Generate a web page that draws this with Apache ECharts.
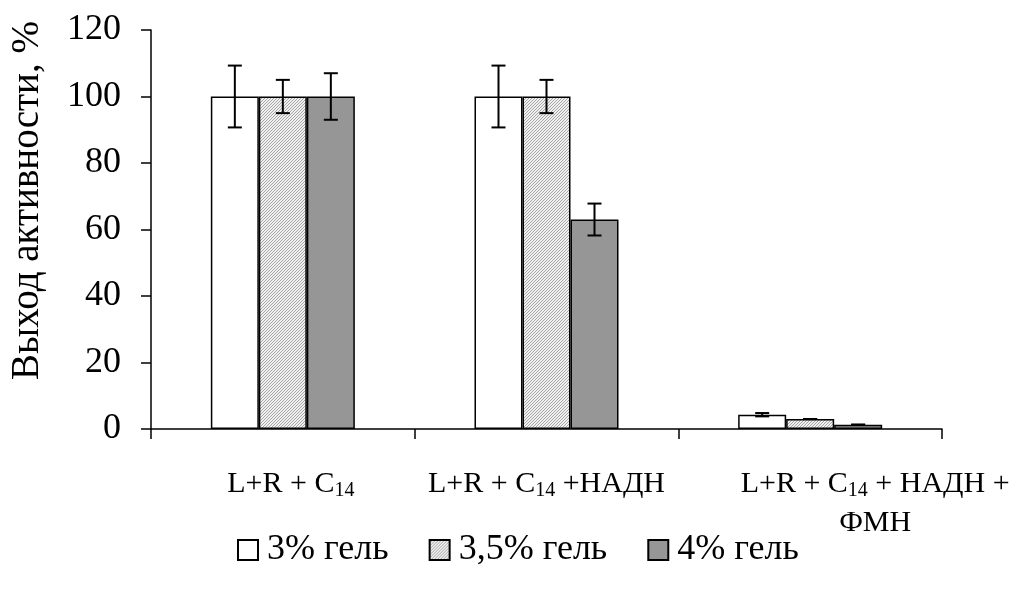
<!DOCTYPE html>
<html>
<head>
<meta charset="utf-8">
<script src="https://cdn.jsdelivr.net/npm/echarts@6/dist/echarts.min.js"></script>
<style>
html,body{margin:0;padding:0;background:#fff;}
#main{width:1020px;height:589px;}
</style>
</head>
<body>
<div id="main"></div>
<script>
// ---- data ----
const categories = ['L+R + C14', 'L+R + C14 +НАДН', 'L+R + C14 + НАДН + ФМН'];
const seriesNames = ['3% гель', '3,5% гель', '4% гель'];
const gel3 = [100, 100, 4.3];
const gel3Err = [9.3, 9.3, 0.5];
const gel35 = [100, 100, 3.0];
const gel35Err = [5.0, 5.0, 0];
const gel4 = [100, 63, 1.3];
const gel4Err = [7.0, 4.8, 0];
const yTicks = [0, 20, 40, 60, 80, 100, 120];

const FONT = "'Liberation Serif', 'Times New Roman', serif";

// hatch pattern for 3,5% gel
function makeHatch() {
  const c = document.createElement('canvas');
  c.width = 3; c.height = 3;
  const ctx = c.getContext('2d');
  const img = ctx.createImageData(3, 3);
  for (let y = 0; y < 3; y++) {
    for (let x = 0; x < 3; x++) {
      const k = (y * 3 + x) * 4;
      const on = (x + y) % 3 === 2;
      const v = on ? 165 : 240;
      img.data[k] = v; img.data[k + 1] = v; img.data[k + 2] = v; img.data[k + 3] = 255;
    }
  }
  ctx.putImageData(img, 0, 0);
  return c;
}
const hatch = makeHatch();

const chart = echarts.init(document.getElementById('main'), null, {renderer: 'canvas'});

const BAR_W = 48;
function errSeries(values, errs, offset) {
  return {
    type: 'custom',
    z: 10,
    silent: true,
    data: values.map((v, i) => [i, v - errs[i], v + errs[i]]),
    encode: {x: 0, y: [1, 2]},
    renderItem: function (params, api) {
      const lo = api.coord([api.value(0), api.value(1)]);
      const hi = api.coord([api.value(0), api.value(2)]);
      const x = lo[0] + offset;
      const hw = 7;
      const st = {stroke: '#000', lineWidth: 2};
      return {
        type: 'group',
        children: [
          {type: 'line', shape: {x1: x, y1: lo[1], x2: x, y2: hi[1]}, style: st},
          {type: 'line', shape: {x1: x - hw, y1: lo[1], x2: x + hw, y2: lo[1]}, style: st},
          {type: 'line', shape: {x1: x - hw, y1: hi[1], x2: x + hw, y2: hi[1]}, style: st}
        ]
      };
    }
  };
}

const labelFormatter = function (val, idx) {
  if (idx === 0) return '{p0| }{a|L+R + C}{s|14}';
  if (idx === 1) return '{a|L+R + C}{s|14}{a| +НАДН}';
  return '{p| }{a|L+R + C}{s|14}{a| + НАДН +}\n{p| }{a|ФМН}';
};

const option = {
  backgroundColor: '#fff',
  animation: false,
  textStyle: {fontFamily: FONT, color: '#000'},
  grid: {left: 145, right: 78, top: 30, bottom: 160, containLabel: false},
  legend: {
    data: seriesNames,
    top: 527,
    left: 232,
    itemWidth: 20,
    itemHeight: 20,
    itemGap: 40,
    icon: 'rect',
    textStyle: {fontFamily: FONT, fontSize: 36, color: '#000', padding: [0, 0, 0, 4]}
  },
  xAxis: {
    type: 'category',
    data: categories,
    axisLine: {lineStyle: {color: '#000', width: 1.5}},
    axisTick: {show: true, interval: 0, length: 10, lineStyle: {color: '#000', width: 1.5}},
    axisLabel: {
      interval: 0,
      margin: 36,
      color: '#000',
      formatter: labelFormatter,
      rich: {
        a: {fontFamily: FONT, fontSize: 30, color: '#000', lineHeight: 39},
        s: {fontFamily: FONT, fontSize: 20, color: '#000', lineHeight: 39, padding: [13, 0, 0, 0]},
        p: {fontFamily: FONT, fontSize: 30, width: 130, lineHeight: 39},
        p0: {fontFamily: FONT, fontSize: 30, width: 16, lineHeight: 39}
      }
    },
    splitLine: {show: false}
  },
  yAxis: {
    type: 'value',
    min: 0,
    max: 120,
    interval: 20,
    name: 'Выход активности, %',
    nameLocation: 'middle',
    nameRotate: 90,
    nameGap: 104,
    nameTextStyle: {fontFamily: FONT, fontSize: 39, color: '#000', padding: [0, 0, 0, 58]},
    axisLine: {show: true, lineStyle: {color: '#000', width: 1.5}},
    axisTick: {show: true, length: 10, lineStyle: {color: '#000', width: 1.5}},
    axisLabel: {
      margin: 30,
      fontFamily: FONT,
      fontSize: 36,
      color: '#000',
      formatter: function (v) { return yTicks.indexOf(v) >= 0 ? String(v) : ''; }
    },
    splitLine: {show: false}
  },
  series: [
    {
      name: seriesNames[0], type: 'bar', data: gel3, barWidth: BAR_W, barGap: '0%',
      itemStyle: {color: '#ffffff', borderColor: '#000', borderWidth: 1.5}
    },
    {
      name: seriesNames[1], type: 'bar', data: gel35, barWidth: BAR_W, barGap: '0%',
      itemStyle: {color: {image: hatch, repeat: 'repeat'}, borderColor: '#000', borderWidth: 1.5}
    },
    {
      name: seriesNames[2], type: 'bar', data: gel4, barWidth: BAR_W, barGap: '0%',
      itemStyle: {color: '#969696', borderColor: '#000', borderWidth: 1.5}
    },
    errSeries(gel3, gel3Err, -BAR_W),
    errSeries(gel35, gel35Err, 0),
    errSeries(gel4, gel4Err, BAR_W)
  ]
};
chart.setOption(option);
</script>
</body>
</html>
